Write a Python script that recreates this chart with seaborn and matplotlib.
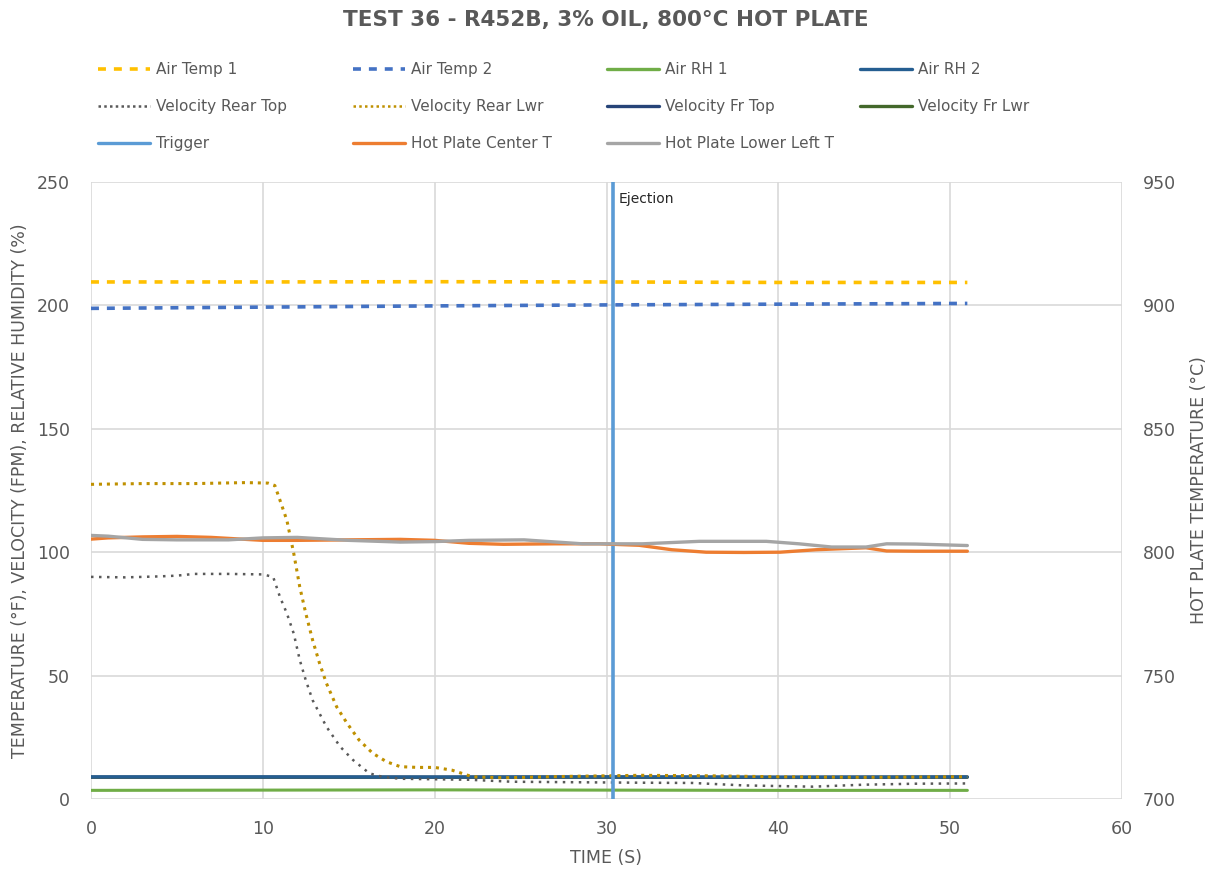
import numpy as np
import pandas as pd
import seaborn as sns
import matplotlib
matplotlib.use("Agg")
import matplotlib.pyplot as plt
from matplotlib.lines import Line2D

# ---------------- data ----------------
t_air = [0, 10, 20, 30, 40, 51]
air_temp_1 = [209.5, 209.5, 209.6, 209.5, 209.3, 209.3]
air_temp_2 = [198.8, 199.3, 199.8, 200.2, 200.5, 200.8]
air_rh_1 = [3.5, 3.6, 3.7, 3.6, 3.5, 3.5]
air_rh_2 = [9.0, 9.0, 8.9, 9.0, 8.9, 9.0]
vel_fr_top = [8.9, 8.9, 8.9, 8.9, 8.8, 8.9]
vel_fr_lwr = [8.8, 8.8, 8.8, 8.8, 8.7, 8.8]

t_rear_top = [0, 2, 4, 5, 6, 8, 10, 10.6, 11.0, 11.4, 11.8, 12.15, 12.5, 12.9, 13.7,
              14.5, 15.25, 16.2, 17, 18, 20, 22, 24.5, 28, 32, 35, 38, 42, 45, 48, 51]
vel_rear_top = [90, 89.8, 90.2, 90.5, 91.2, 91.2, 91.0, 90, 81.8, 75.2, 67, 56.3, 48.1, 40, 29.3,
                21.2, 15.8, 10.4, 8.9, 8.2, 8.0, 7.8, 7.0, 6.8, 6.6, 6.5, 5.5, 5.0, 5.8, 6.2, 6.3]

t_rear_lwr = [0, 3, 6, 9, 10.3, 10.7, 11.0, 11.4, 11.8, 12.15, 12.5, 12.9, 13.3, 13.7, 14.3,
              14.9, 15.6, 16.4, 17.2, 18, 19, 20, 21, 22.2, 24, 28, 32, 36, 40, 45, 51]
vel_rear_lwr = [127.5, 127.8, 127.8, 128.2, 128, 127, 121, 112.9, 99.5, 85.9, 75.2, 64.3, 55, 46.9, 37.3,
                30.7, 23.9, 18.5, 15.1, 13.1, 12.8, 12.8, 11.7, 9.0, 8.6, 9.2, 9.6, 9.4, 9.0, 8.8, 9.0]

t_trigger = [30.35, 30.35]
trigger = [0, 250]

t_center = [0, 1, 3, 5, 7, 10, 12, 15, 18, 20, 22, 24, 27, 29.6, 31.9, 33.8, 35.8, 38, 40.1,
            42.2, 45.1, 46.3, 48, 51]
hp_center = [805.3, 805.8, 806.2, 806.4, 806.0, 804.8, 804.8, 805.0, 805.2, 804.8, 803.6, 803.2,
             803.4, 803.4, 802.8, 801.0, 800.0, 799.9, 800.0, 801.0, 801.8, 800.5, 800.4, 800.4]

t_lower_left = [0, 1, 3, 5, 8, 10, 12, 15, 18, 20, 22, 25.2, 28.6, 30, 32.1, 35.4, 39.3, 41.2,
                43.1, 45.1, 46.3, 48, 51]
hp_lower_left = [806.8, 806.5, 805.2, 805.0, 805.0, 805.8, 806.0, 804.8, 804.1, 804.3, 804.8, 805.0,
                 803.4, 803.4, 803.4, 804.4, 804.4, 803.4, 802.1, 802.1, 803.4, 803.3, 802.7]

x_ticks = [0, 10, 20, 30, 40, 50, 60]
y_left_ticks = [0, 50, 100, 150, 200, 250]
y_right_ticks = [700, 750, 800, 850, 900, 950]

# ---------------- style ----------------
sns.set_theme(style="white")
plt.rcParams['font.family'] = ['DejaVu Sans']
GRAY = "#595959"
GRID = "#D9D9D9"

fig = plt.figure(figsize=(12.2, 8.74), dpi=100)
ax = fig.add_axes([91/1220, 1-799/874, (1122-91)/1220, (799-182)/874])
ax2 = ax.twinx()

def draw(a, t, v, color, ls, lw, label):
    sns.lineplot(x=t, y=v, ax=a, color=color, linestyle=ls, linewidth=lw,
                 sort=False, estimator=None, label=label, legend=False)

draw(ax, t_air, air_temp_1, "#FFC000", (0, (2.2, 2.2)), 2.6, "Air Temp 1")
draw(ax, t_air, air_temp_2, "#4472C4", (0, (2.2, 2.2)), 2.6, "Air Temp 2")
draw(ax, t_air, air_rh_1, "#70AD47", "-", 2.2, "Air RH 1")
draw(ax, t_air, vel_fr_lwr, "#43682B", "-", 2.2, "Velocity Fr Lwr")
draw(ax, t_air, vel_fr_top, "#264478", "-", 2.2, "Velocity Fr Top")
draw(ax, t_air, air_rh_2, "#255E91", "-", 2.2, "Air RH 2")
draw(ax, t_rear_top, vel_rear_top, "#595959", (0, (1, 2.2)), 1.8, "Velocity Rear Top")
draw(ax, t_rear_lwr, vel_rear_lwr, "#BF9000", (0, (1, 1.6)), 2.2, "Velocity Rear Lwr")
draw(ax, t_trigger, trigger, "#5B9BD5", "-", 2.6, "Trigger")
draw(ax2, t_center, hp_center, "#ED7D31", "-", 2.4, "Hot Plate Center T")
draw(ax2, t_lower_left, hp_lower_left, "#A5A5A5", "-", 2.4, "Hot Plate Lower Left T")

ax.text(30.7, 246, "Ejection", fontsize=10, color="#262626", va="top", ha="left")

ax.set_xlim(0, 60)
ax.set_ylim(0, 250)
ax2.set_ylim(700, 950)
ax.set_xticks(x_ticks)
ax.set_yticks(y_left_ticks)
ax2.set_yticks(y_right_ticks)
ax.grid(True, color=GRID, linewidth=1.2)
ax.set_axisbelow(True)
ax2.grid(False)
for a in (ax, ax2):
    for s in a.spines.values():
        s.set_visible(False)
    a.tick_params(axis='both', length=0, labelsize=12.5, colors=GRAY)
ax.tick_params(axis='x', pad=15)
ax.tick_params(axis='y', pad=15)
ax2.tick_params(axis='y', pad=15)

ax.set_xlabel("TIME (S)", fontsize=12.5, color=GRAY, labelpad=8)
ax.set_ylabel("TEMPERATURE (°F), VELOCITY (FPM), RELATIVE HUMIDITY (%)", fontsize=12.5, color=GRAY, labelpad=6)
ax2.set_ylabel("HOT PLATE TEMPERATURE (°C)", fontsize=12.5, color=GRAY, labelpad=10)

fig.suptitle("TEST 36 - R452B, 3% OIL, 800°C HOT PLATE", x=606/1220, y=1-10/874, va="top",
             fontsize=15.5, fontweight="bold", color=GRAY)

# ---------------- legend: 4 columns ----------------
def h(color, ls, lw):
    return Line2D([], [], color=color, linestyle=ls, linewidth=lw)

columns = [
    [(h("#FFC000", (0, (2.2, 2.2)), 2.6), "Air Temp 1"),
     (h("#595959", (0, (1, 1.3)), 1.8), "Velocity Rear Top"),
     (h("#5B9BD5", "-", 2.4), "Trigger")],
    [(h("#4472C4", (0, (2.2, 2.2)), 2.6), "Air Temp 2"),
     (h("#BF9000", (0, (1, 1.3)), 1.8), "Velocity Rear Lwr"),
     (h("#ED7D31", "-", 2.4), "Hot Plate Center T")],
    [(h("#70AD47", "-", 2.4), "Air RH 1"),
     (h("#264478", "-", 2.4), "Velocity Fr Top"),
     (h("#A5A5A5", "-", 2.4), "Hot Plate Lower Left T")],
    [(h("#255E91", "-", 2.4), "Air RH 2"),
     (h("#43682B", "-", 2.4), "Velocity Fr Lwr")],
]
col_x = [98, 353, 607, 860]
for cx, items in zip(col_x, columns):
    leg = fig.legend([i[0] for i in items], [i[1] for i in items],
                     loc="upper left", bbox_to_anchor=(cx/1220, 1-62/874),
                     frameon=False, fontsize=11, handlelength=3.4, handletextpad=0.4,
                     labelspacing=1.45, borderaxespad=0, borderpad=0)
    for txt in leg.get_texts():
        txt.set_color(GRAY)

fig.savefig("out.png", dpi=100)
